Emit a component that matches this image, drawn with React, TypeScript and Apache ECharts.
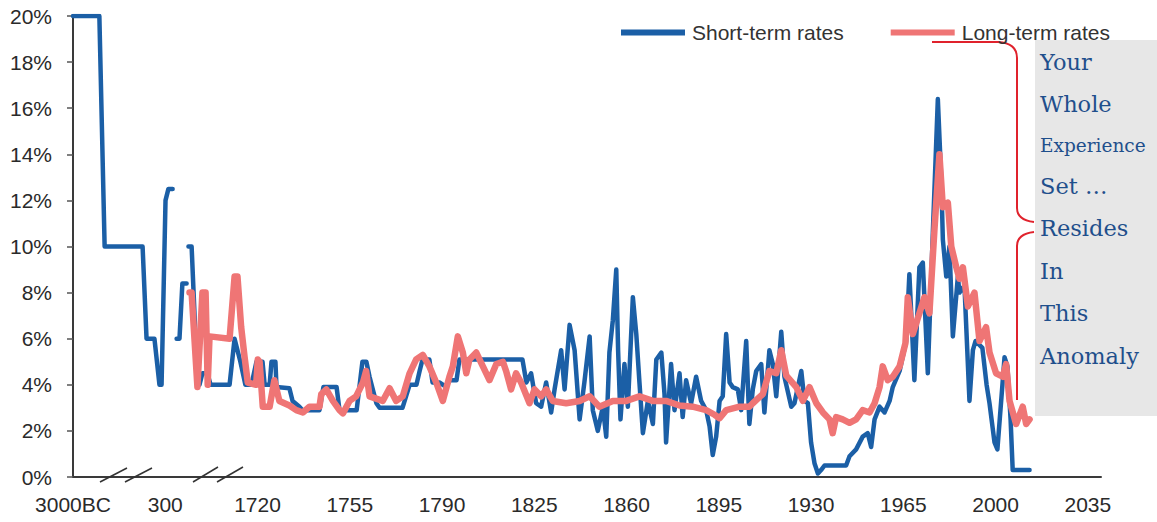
import React, { useEffect, useRef } from "react";
import * as echarts from "echarts";

// Broken x axis: positions 1650 and 1685 stand for "3000BC" and "300"; real years from 1720 on.
const xTickPositions = [1650, 1685, 1720, 1755, 1790, 1825, 1860, 1895, 1930, 1965, 2000, 2035];
const xTickLabels = ["3000BC", "300", "1720", "1755", "1790", "1825", "1860", "1895", "1930", "1965", "2000", "2035"];
const yTicks = [0, 2, 4, 6, 8, 10, 12, 14, 16, 18, 20];

const seriesNames = ["Short-term rates", "Long-term rates"];

// [axis position, rate %] ; "-" marks a gap in the record
const shortTermRates: [number, number | string][] = [
  [1650, 20], [1660, 20], [1662, 10], [1676.4, 10], [1677.9, 6], [1680.9, 6], [1682.8, 4], [1683.6, 4],
  [1685.1, 12], [1686.2, 12.5], [1687.8, 12.5], [1688.5, "-"],
  [1689.3, 6], [1690.4, 6], [1691.5, 8.4], [1693.1, 8.4], [1693.5, "-"],
  [1693.8, 10], [1695, 10], [1696.5, 6], [1698, 4], [1699.1, 4.5], [1701, 4.5], [1702.2, 4], [1709.4, 4],
  [1711.3, 6], [1713.5, 5], [1715.4, 4], [1717.7, 4], [1719.6, 5], [1721.9, 5], [1722.7, 4], [1724.6, 4],
  [1725.3, 5], [1726.8, 5], [1727.2, 3.9], [1732.1, 3.85], [1733.3, 3.3], [1735.9, 3.05], [1737.1, 2.9],
  [1743.5, 2.9], [1745, 3.9], [1750, 3.9], [1751.1, 2.9], [1757.6, 2.9], [1759.8, 5], [1761.3, 5],
  [1762.5, 4.35], [1765.1, 3.2], [1766.3, 3], [1775, 3], [1777.7, 4], [1780.3, 4], [1781.5, 4.6],
  [1782.6, 5.1], [1785.2, 5.1], [1786.4, 4.1], [1789, 4.1], [1791.7, 3.9], [1792.8, 4.2], [1795.5, 4.2],
  [1796.6, 5.1], [1820.5, 5.1], [1822, 4.1], [1823.8, 4.5], [1825.7, 3.2], [1827.6, 3.05], [1829.5, 4.1],
  [1831.4, 2.8], [1832.7, 3.8], [1835.2, 5.5], [1836.5, 3.8], [1838.4, 6.6], [1840.3, 5.5], [1842.2, 2.5],
  [1844, 4.1], [1846, 6.1], [1847.2, 2.9], [1849.1, 2], [1851, 3.05], [1852.3, 1.75], [1853.5, 5.4],
  [1854.8, 6.8], [1856.1, 9], [1856.8, 5.5], [1857.7, 2.5], [1859.2, 4.9], [1860.5, 3.05], [1862.4, 7.8],
  [1863.7, 6.2], [1864.9, 4.1], [1866.2, 1.9], [1868.1, 3.3], [1870, 2.3], [1871.3, 5.1], [1873.2, 5.4],
  [1874.4, 3.6], [1875, 1.5], [1876.9, 4.9], [1878.2, 2.9], [1880.1, 4.5], [1881.3, 2.6], [1882.6, 4.2],
  [1884.5, 3.2], [1886.4, 4.35], [1888.3, 3.3], [1890.2, 2.9], [1891.5, 2.2], [1892.7, 0.95], [1894, 1.75],
  [1895.3, 3.3], [1896.5, 3.5], [1897.8, 6.2], [1899.1, 4.1], [1900.3, 3.9], [1902.2, 3.8], [1903.5, 2.9],
  [1905.4, 5.9], [1906.6, 2.3], [1907.9, 3.8], [1909.2, 4.6], [1911.1, 4.9], [1912.3, 2.8], [1914.2, 5.5],
  [1915.5, 4.9], [1916.8, 3.5], [1918.7, 6.3], [1919.9, 4.35], [1922.5, 3.05], [1923.7, 3.2], [1926.3, 4.6],
  [1927.5, 3.3], [1928.8, 3.2], [1930, 1.5], [1931.3, 0.6], [1932.6, 0.15], [1933.8, 0.3], [1935.1, 0.5],
  [1943.3, 0.5], [1944.6, 0.9], [1947.1, 1.2], [1949.6, 1.75], [1951.5, 1.9], [1952.8, 1.3], [1954.1, 2.5],
  [1956, 3.05], [1957.9, 2.8], [1959.8, 3.3], [1961, 3.9], [1963.6, 4.6], [1966.1, 5.9], [1967.3, 8.8],
  [1969.2, 4.2], [1971.1, 9.1], [1972.4, 9.3], [1974.3, 4.5], [1976.2, 10.6], [1978.1, 16.4], [1979.4, 12.9],
  [1980, 10.3], [1981.3, 8.7], [1982.5, 10], [1983.8, 6.1], [1985.7, 8.7], [1986.3, 8], [1988.2, 8.3],
  [1990.1, 3.3], [1991.4, 5.5], [1992.4, 5.9], [1995, 5.6], [1996.6, 4], [1997.7, 3.2], [1999.6, 1.5],
  [2000.7, 1.2], [2002.6, 4], [2003.4, 5.2], [2004.5, 4.8], [2005.7, 2.5], [2006.5, 0.3], [2012.9, 0.3],
];

const longTermRates: [number, number][] = [
  [1694.2, 8], [1695, 8], [1697.2, 3.9], [1699.1, 8], [1700.3, 8], [1701.1, 4], [1701.8, 6.1], [1709.4, 6],
  [1711.3, 8.7], [1712.4, 8.7], [1713.8, 6.5], [1715.1, 5.2], [1716.3, 4.1], [1719.5, 4], [1720.1, 5.1],
  [1720.8, 5], [1722, 3.05], [1724.6, 3.05], [1726.4, 4.2], [1728.3, 3.3], [1732.1, 3.1], [1734.7, 2.9],
  [1737.2, 2.8], [1739.7, 3.05], [1743.5, 3.05], [1744.2, 3.6], [1746.1, 3.8], [1748.6, 3.3], [1751.1, 2.9],
  [1752.4, 2.76], [1754.9, 3.3], [1757.4, 3.5], [1760, 4.1], [1761.2, 4.6], [1762.5, 3.5], [1765, 3.4],
  [1767.5, 3.3], [1770.1, 3.85], [1772.6, 3.3], [1775.1, 3.5], [1777.7, 4.5], [1780.2, 5.1], [1782.7, 5.3],
  [1785.2, 4.8], [1787.8, 4.1], [1790.3, 3.3], [1792.8, 4.35], [1794.1, 4.8], [1796, 6.1], [1797.9, 5.4],
  [1799.2, 4.5], [1800.4, 5.1], [1803, 5.4], [1805.5, 4.8], [1808, 4.2], [1810.6, 4.9], [1813.1, 5],
  [1814.3, 4.6], [1816.2, 3.8], [1818.1, 4.5], [1820, 4.1], [1823.2, 3.2], [1825.1, 3.8], [1827.6, 3.5],
  [1829.5, 3.8], [1832, 3.3], [1837.1, 3.2], [1842.2, 3.3], [1846, 3.5], [1849.7, 3.05], [1854.8, 3.3],
  [1859.9, 3.3], [1864.9, 3.5], [1870, 3.3], [1875, 3.3], [1880.1, 3.1], [1885.1, 3.05], [1890.2, 2.9],
  [1893.4, 2.7], [1895.3, 2.55], [1897.8, 2.9], [1902.9, 3.05], [1906.6, 3.05], [1907.9, 3.2], [1911.7, 3.6],
  [1914.2, 4.6], [1916.8, 4.5], [1918.7, 5.5], [1920.6, 4.4], [1924.4, 3.9], [1926.9, 3.3], [1929.4, 3.9],
  [1932, 3.2], [1934.5, 2.8], [1937, 2.5], [1938.2, 1.9], [1939.5, 2.6], [1942, 2.5], [1944.6, 2.35],
  [1947.1, 2.5], [1949.6, 2.9], [1952.2, 2.8], [1954.1, 3.2], [1956, 3.9], [1957.2, 4.8], [1959.1, 4.2],
  [1961, 4.35], [1963.6, 4.8], [1965.8, 5.8], [1966.7, 7.8], [1968.6, 6.2], [1971.1, 7.1], [1973, 7.8],
  [1974.9, 7.1], [1976.8, 10.7], [1978.7, 14], [1980, 11.7], [1981.9, 11.9], [1983.2, 10], [1985.1, 9.1],
  [1986.3, 8.6], [1987.6, 9.1], [1989.5, 7.4], [1992, 8], [1993.9, 5.9], [1996.4, 6.5], [1997.7, 5.4],
  [2000.2, 4.5], [2002.7, 4.35], [2004, 4.9], [2005.3, 3.3], [2007.8, 2.3], [2010.3, 3.05], [2011.6, 2.3],
  [2012.9, 2.5],
];

const annotationLines = ["Your", "Whole", "Experience", "Set \u2026", "Resides", "In", "This", "Anomaly"];

const SANS = "'Liberation Sans', Arial, Helvetica, sans-serif";
const SERIF = "'DejaVu Serif', 'Liberation Serif', serif";
const BLUE = "#1b5fa6";
const PINK = "#ef7575";

const bracePath =
  "M 932 42 L 998 42 Q 1017 43 1017 58 L 1017 208 Q 1017 220 1034 222 M 1034 232 Q 1017 234 1017 246 L 1017 400";

export default function App() {
  const ref = useRef<HTMLDivElement>(null);
  useEffect(() => {
    if (!ref.current) return;
    try {
      echarts.graphic.registerShape("brace", echarts.graphic.extendPath(bracePath, {}) as any);
    } catch (e) {}
    const chart = echarts.init(ref.current, undefined, { renderer: "svg" });
    const annY = [62, 104, 145, 186, 228, 271, 313, 356];
    const option: any = {
      animation: false,
      backgroundColor: "#ffffff",
      grid: { left: 73, right: 56, top: 16, bottom: 45, containLabel: false, outerBoundsMode: "none" },
      legend: {
        left: 616,
        top: 17,
        z: 30,
        orient: "horizontal",
        itemWidth: 64,
        itemHeight: 6,
        itemGap: 47,
        icon: "rect",
        textStyle: { fontFamily: SANS, fontSize: 21, color: "#333", padding: [0, 0, 0, 2] },
        data: [
          { name: seriesNames[0], itemStyle: { color: BLUE } },
          { name: seriesNames[1], itemStyle: { color: PINK } },
        ],
      },
      xAxis: {
        type: "value",
        min: 1650,
        max: 2040,
        splitLine: { show: false },
        axisTick: { show: false },
        axisLine: { show: true, lineStyle: { color: "#3a3a3a", width: 2 } },
        axisLabel: {
          customValues: xTickPositions,
          margin: 17,
          fontFamily: SANS,
          fontSize: 21,
          color: "#2a2a2a",
          formatter: (v: number) => {
            const i = xTickPositions.indexOf(v);
            return i >= 0 ? xTickLabels[i] : "";
          },
        },
      },
      yAxis: {
        type: "value",
        min: 0,
        max: 20,
        interval: 2,
        splitLine: { show: false },
        axisLine: { show: true, lineStyle: { color: "#3a3a3a", width: 2 } },
        axisTick: { show: true, length: 6, lineStyle: { color: "#555", width: 1.5 } },
        axisLabel: {
          margin: 21,
          fontFamily: SANS,
          fontSize: 21,
          color: "#2a2a2a",
          formatter: (v: number) => (yTicks.includes(v) ? v + "%" : ""),
        },
      },
      series: [
        {
          name: seriesNames[0],
          type: "line",
          data: shortTermRates,
          showSymbol: false,
          symbol: "none",
          connectNulls: false,
          lineStyle: { color: BLUE, width: 4.5, join: "round", cap: "round" },
          itemStyle: { color: BLUE },
          z: 2,
        },
        {
          name: seriesNames[1],
          type: "line",
          data: longTermRates,
          showSymbol: false,
          symbol: "none",
          lineStyle: { color: PINK, width: 6.5, join: "round", cap: "round" },
          itemStyle: { color: PINK },
          z: 3,
        },
      ],
      graphic: [
        { type: "rect", shape: { x: 1035, y: 40, width: 122, height: 376 }, style: { fill: "#e7e7e7" }, z: 10 },
        ...annotationLines.map((t, i) => ({
          type: "text",
          x: 1040,
          y: annY[i],
          z: 11,
          style: {
            text: t,
            fill: "#1f4f8c",
            fontFamily: SERIF,
            fontSize: t === "Experience" ? 18.5 : 22.5,
            verticalAlign: "middle",
          },
        })),
        { type: "brace", x: 0, y: 0, z: 12, style: { stroke: "#e0222c", lineWidth: 2, fill: "none" } },
        // axis break marks
        { type: "line", shape: { x1: 100, y1: 482, x2: 127, y2: 468 }, style: { stroke: "#333", lineWidth: 1.5 }, z: 12 },
        { type: "line", shape: { x1: 125, y1: 482, x2: 152, y2: 468 }, style: { stroke: "#333", lineWidth: 1.5 }, z: 12 },
        { type: "line", shape: { x1: 193, y1: 482, x2: 218, y2: 467 }, style: { stroke: "#333", lineWidth: 1.5 }, z: 12 },
        { type: "line", shape: { x1: 217, y1: 482, x2: 243, y2: 467 }, style: { stroke: "#333", lineWidth: 1.5 }, z: 12 },
      ],
    };
    chart.setOption(option);
    return () => chart.dispose();
  }, []);
  return <div ref={ref} style={{ position: "fixed", left: 0, top: 0, width: 1157, height: 522 }} />;
}
